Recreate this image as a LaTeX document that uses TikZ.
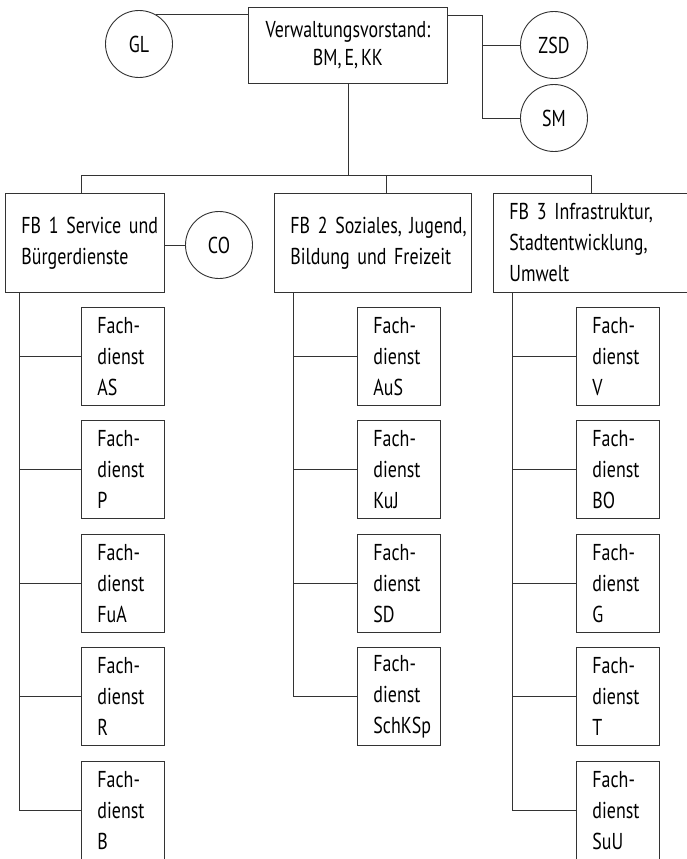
\documentclass[tikz,border=0pt]{standalone}
\usepackage{fontspec}
\setmainfont{PT Sans}[FakeStretch=0.78, WordSpace=0.6]
\usetikzlibrary{positioning}

\begin{document}
\begin{tikzpicture}[
    x=1pt, y=-1pt,
    line/.style={draw=black!80, line width=0.9pt},
    txt/.style={font=\fontsize{23}{31}\selectfont},
    unit/.style={line, txt, rectangle, anchor=north west, align=left,
        inner xsep=16pt, inner ysep=0pt, minimum height=99pt},
    fb/.style={unit, text width=#1},
    fd/.style={unit, text width=51pt, minimum height=98pt},
    head/.style={line, rectangle, anchor=north west, align=center,
        font=\fontsize{23}{28}\selectfont, minimum width=199pt,
        minimum height=76pt, inner sep=0pt},
    staff/.style={line, txt, circle, minimum size=67pt, inner sep=0pt},
]
\useasboundingbox (0,0) rectangle (686,859);

% === Verwaltungsvorstand with staff units ===
\node[head] (vv) at (248,7) {Verwaltungsvorstand:\\BM, E, KK};
\node[staff] (gl) at (139,44) {GL};
\node[staff] (zsd) at (554,45) {ZSD};
\node[staff] (sm) at (554,118) {SM};
\coordinate (rb) at (482,15);

\draw[line] (gl.60) -- (gl.60 -| vv.west);
\draw[line] (vv.east |- rb) -- (rb) |- (sm.west);
\draw[line] (zsd.west) -- (zsd.west -| rb);

% === Fachbereiche ===
\node[fb=127pt] (fb1) at (5,193) {\mbox{FB 1 Service und}\\\mbox{Bürgerdienste}};
\node[fb=165pt] (fb2) at (274,193) {\mbox{FB 2 Soziales, Jugend,}\\\mbox{Bildung und Freizeit}};
\node[fb=163pt] (fb3) at (493,193) {\mbox{FB 3 Infrastruktur,}\\\mbox{Stadtentwicklung,}\\Umwelt};
\node[staff] (co) at (219,245) {CO};

\coordinate (b1) at (81,175);
\coordinate (b2) at (386,175);
\coordinate (b3) at (591,175);
\draw[line] (vv.south) -- (vv.south |- b1);
\draw[line] (b1 |- fb1.north) -- (b1) -- (b3) -- (b3 |- fb3.north);
\draw[line] (b2) -- (b2 |- fb2.north);
\draw[line] (fb1.east |- co) -- (co);

% === Fachdienste FB 1 ===
\node[fd] (fd1a) at (81,307) {Fach-\\dienst\\AS};
\node[fd] (fd1b) at (81,420) {Fach-\\dienst\\P};
\node[fd] (fd1c) at (81,534) {Fach-\\dienst\\FuA};
\node[fd] (fd1d) at (81,647) {Fach-\\dienst\\R};
\node[fd] (fd1e) at (81,761) {Fach-\\dienst\\B};

% === Fachdienste FB 2 ===
\node[fd] (fd2a) at (357,307) {Fach-\\dienst\\AuS};
\node[fd] (fd2b) at (357,420) {Fach-\\dienst\\KuJ};
\node[fd] (fd2c) at (357,534) {Fach-\\dienst\\SD};
\node[fd] (fd2d) at (357,647) {Fach-\\dienst\\\mbox{SchKSp}};

% === Fachdienste FB 3 ===
\node[fd] (fd3a) at (576,307) {Fach-\\dienst\\V};
\node[fd] (fd3b) at (576,420) {Fach-\\dienst\\BO};
\node[fd] (fd3c) at (576,534) {Fach-\\dienst\\G};
\node[fd] (fd3d) at (576,647) {Fach-\\dienst\\T};
\node[fd] (fd3e) at (576,761) {Fach-\\dienst\\SuU};

% trunks
\coordinate (t1) at (19,0);
\coordinate (t2) at (293,0);
\coordinate (t3) at (512,0);
\draw[line] (fb1.south -| t1) |- (fd1e.west);
\draw[line] (fd1a.west -| t1) -- (fd1a.west) (fd1b.west -| t1) -- (fd1b.west)
    (fd1c.west -| t1) -- (fd1c.west) (fd1d.west -| t1) -- (fd1d.west);
\draw[line] (fb2.south -| t2) |- (fd2d.west);
\draw[line] (fd2a.west -| t2) -- (fd2a.west) (fd2b.west -| t2) -- (fd2b.west)
    (fd2c.west -| t2) -- (fd2c.west);
\draw[line] (fb3.south -| t3) |- (fd3e.west);
\draw[line] (fd3a.west -| t3) -- (fd3a.west) (fd3b.west -| t3) -- (fd3b.west)
    (fd3c.west -| t3) -- (fd3c.west) (fd3d.west -| t3) -- (fd3d.west);
\end{tikzpicture}
\end{document}
